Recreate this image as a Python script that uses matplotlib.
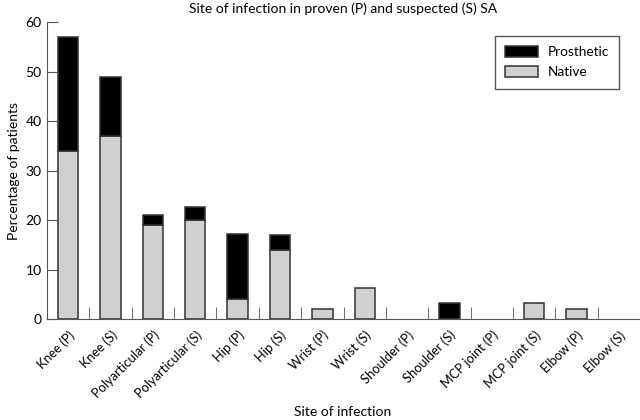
import numpy as np
import matplotlib.pyplot as plt

# data
sites = ['Knee (P)', 'Knee (S)', 'Polyarticular (P)', 'Polyarticular (S)',
         'Hip (P)', 'Hip (S)', 'Wrist (P)', 'Wrist (S)', 'Shoulder (P)',
         'Shoulder (S)', 'MCP joint (P)', 'MCP joint (S)', 'Elbow (P)', 'Elbow (S)']
native = [34, 37, 19, 20, 4, 14, 2, 6.2, 0, 0, 0, 3.3, 2, 0]
prosthetic = [23, 12, 2, 2.7, 13.2, 3, 0, 0, 0, 3.3, 0, 0, 0, 0]

plt.rcParams['font.family'] = ['Lato', 'DejaVu Sans']

fig = plt.figure(figsize=(6.4, 4.2), dpi=100)
ax = fig.add_axes([0.0735, 0.2405, 0.9265, 0.7065])

x = np.arange(len(sites))
w = 0.48
edge = '#333333'
# no outline for empty bars
lw_nat = [1.1 if v > 0 else 0 for v in native]
lw_pro = [1.1 if v > 0 else 0 for v in prosthetic]
ax.bar(x, native, w, color='#d0d0d0', edgecolor=edge, linewidth=lw_nat, label='Native')
ax.bar(x, prosthetic, w, bottom=native, color='black', edgecolor=edge,
       linewidth=lw_pro, label='Prosthetic')

ax.set_xlim(-0.5, len(sites) - 0.5)
ax.set_ylim(0, 60)
ax.set_yticks(range(0, 61, 10))
ax.set_xticks(x)
ax.set_xticklabels(sites, rotation=45, ha='right', rotation_mode='anchor', fontsize=9.3)
ax.tick_params(axis='x', length=0, pad=7)
ax.set_xticks(x[:-1] + 0.5, minor=True)
ax.tick_params(axis='x', which='minor', direction='in', length=9, color='#555555')
ax.tick_params(axis='y', labelsize=10, direction='in', length=8, pad=4, color='#555555')

for s in ['top', 'right']:
    ax.spines[s].set_visible(False)
for s in ['left', 'bottom']:
    ax.spines[s].set_color('#555555')

ax.set_title('Site of infection in proven (P) and suspected (S) SA', fontsize=10, pad=7)
ax.set_ylabel('Percentage of patients', fontsize=10, labelpad=4)
fig.text(0.535, 0.02, 'Site of infection', ha='center', va='center', fontsize=10)

h, l = ax.get_legend_handles_labels()
ax.legend(h[::-1], l[::-1], loc='upper right', bbox_to_anchor=(0.965, 0.954),
          borderaxespad=0, fontsize=9.8, fancybox=False, edgecolor='#555555',
          framealpha=1, handlelength=2.4, handleheight=0.9, handletextpad=0.7,
          borderpad=0.75, labelspacing=0.55)

fig.savefig('out.png', dpi=100)
